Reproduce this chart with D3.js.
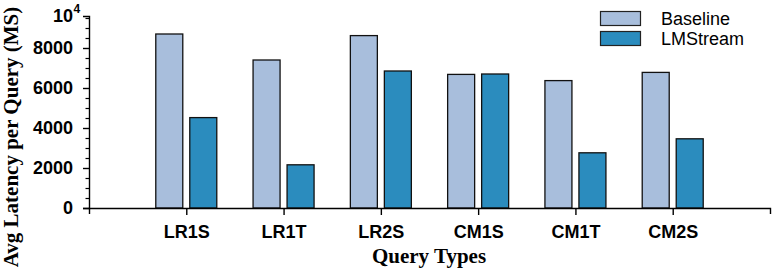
<!DOCTYPE html>
<html>
<head>
<meta charset="utf-8">
<script src="https://cdn.jsdelivr.net/npm/d3@7"></script>
<style>
  body { margin: 0; background: #fff; }
  svg { display: block; }
</style>
</head>
<body>
<svg id="chart" width="772" height="275"></svg>
<script>
const categories = ["LR1S", "LR1T", "LR2S", "CM1S", "CM1T", "CM2S"];
const seriesNames = ["Baseline", "LMStream"];
const baselineValues = [8700, 7400, 8620, 6680, 6370, 6780];
const lmstreamValues = [4520, 2160, 6850, 6700, 2760, 3460];
const yMajorTicks = [0, 2000, 4000, 6000, 8000];
const yMinorTicks = [500, 1000, 1500, 2500, 3000, 3500, 4500, 5000, 5500, 6500, 7000, 7500, 8500, 9000, 9500];
const yMax = 9600;
const colors = { "Baseline": "#a8bedc", "LMStream": "#2b8cbe" };

const svg = d3.select("#chart");
const x0 = 89, x1 = 770, yBottom = 208, yTop = 16;

const x = d3.scalePoint().domain(categories).range([x0, x1]).padding(1);
const xs = d3.scaleBand().domain(seriesNames).range([-30.5, 30.5]).paddingInner(7 / 34);
const y = d3.scaleLinear().domain([0, yMax]).range([yBottom, yTop]);

const data = categories.map((c, i) => ({ cat: c, Baseline: baselineValues[i], LMStream: lmstreamValues[i] }));

// bars
const g = svg.append("g");
data.forEach(d => {
  seriesNames.forEach(s => {
    g.append("rect")
      .attr("x", x(d.cat) + xs(s))
      .attr("y", y(d[s]))
      .attr("width", xs.bandwidth())
      .attr("height", y(0) - y(d[s]))
      .attr("fill", colors[s])
      .attr("stroke", "#111")
      .attr("stroke-width", 1.3);
  });
});

// y minor ticks
svg.append("g").selectAll("line").data(yMinorTicks).join("line")
  .attr("x1", x0 - 3.5).attr("x2", x0)
  .attr("y1", d => Math.round(y(d)) + 0.5).attr("y2", d => Math.round(y(d)) + 0.5)
  .attr("stroke", "#000").attr("stroke-width", 1.2);

// y axis
const yAxis = svg.append("g").attr("transform", `translate(${x0},0)`)
  .call(d3.axisLeft(y).tickValues(yMajorTicks).tickFormat(d3.format("d")).tickSize(6).tickSizeOuter(6).tickPadding(10));
yAxis.selectAll("text").attr("font-family", "Liberation Sans, Arial, sans-serif").attr("font-weight", "bold").attr("font-size", 18).attr("fill", "#000");
yAxis.selectAll("path, line").attr("stroke", "#000").attr("stroke-width", 1.4);

// 10^4 label at top
const expLabel = svg.append("text")
  .attr("x", x0 - 16).attr("y", yTop).attr("dy", "0.36em")
  .attr("text-anchor", "end")
  .attr("font-family", "Liberation Sans, Arial, sans-serif").attr("font-weight", "bold").attr("font-size", 18)
  .text("10");
svg.append("text")
  .attr("x", x0 - 15.5).attr("y", yTop - 3)
  .attr("font-family", "Liberation Sans, Arial, sans-serif").attr("font-weight", "bold").attr("font-size", 12)
  .text("4");

// x axis
const xAxis = svg.append("g").attr("transform", `translate(0,${yBottom})`)
  .call(d3.axisBottom(x).tickSize(7).tickSizeOuter(6).tickPadding(10));
xAxis.selectAll("text").attr("font-family", "Liberation Sans, Arial, sans-serif").attr("font-weight", "bold").attr("font-size", 18).attr("fill", "#000");
xAxis.selectAll("path, line").attr("stroke", "#000").attr("stroke-width", 1.4);

// axis titles
svg.append("text")
  .attr("transform", `translate(18,137) rotate(-90)`)
  .attr("text-anchor", "middle")
  .attr("font-family", "Liberation Serif, Times New Roman, serif").attr("font-weight", "bold").attr("font-size", 21)
  .text("Avg Latency per Query (MS)");
svg.append("text")
  .attr("x", 429).attr("y", 263)
  .attr("text-anchor", "middle")
  .attr("font-family", "Liberation Serif, Times New Roman, serif").attr("font-weight", "bold").attr("font-size", 21)
  .text("Query Types");

// legend
const legend = svg.append("g");
seriesNames.forEach((s, i) => {
  legend.append("rect")
    .attr("x", 600.5).attr("y", 11.5 + i * 20)
    .attr("width", 40).attr("height", 14)
    .attr("fill", colors[s]).attr("stroke", "#222").attr("stroke-width", 1.2);
  legend.append("text")
    .attr("x", 661).attr("y", 25 + i * 20)
    .attr("font-family", "Liberation Sans, Arial, sans-serif").attr("font-size", 18)
    .text(s);
});
</script>
</body>
</html>
